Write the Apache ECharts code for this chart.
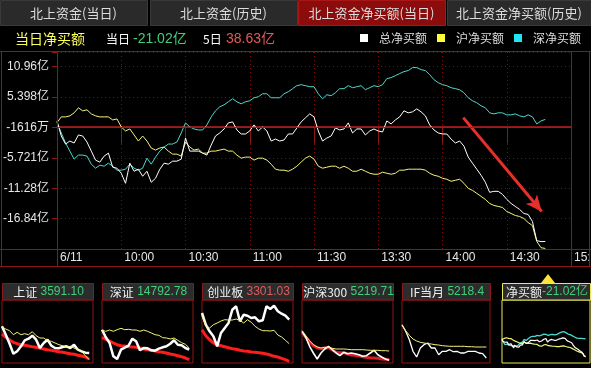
<!DOCTYPE html>
<html><head><meta charset="utf-8">
<script src="https://cdn.jsdelivr.net/npm/echarts@6/dist/echarts.min.js"></script>
<style>html,body{margin:0;padding:0;background:#000;overflow:hidden}#c{width:591px;height:368px}</style>
</head><body><div id="c"></div>
<script>
// ---- main chart data (亿元), sampled every 2 trading minutes from 9:30 ----
const times = [0,2,4,6,8,10,12,14,16,18,20,22,24,26,28,30,32,34,36,38,40,42,44,46,48,50,52,54,56,58,60,62,64,66,68,70,72,74,76,78,80,82,84,86,88,90,92,94,96,98,100,102,104,106,108,110,112,114,116,118,120,122,124,126,128,130,132,134,136,138,140,142,144,146,148,150,152,154,156,158,160,162,164,166,168,170,172,174,176,178,180,182,184,186,188,190,192,194,196,198,200,202,204,206,208,210,212,214,216,218,220,222,224,226,228];
const totalNet = [1.03,-1.73,-3.20,-2.65,-3.01,-1.54,-1.73,-2.83,-4.49,-6.14,
 -6.51,-5.41,-4.86,-7.43,-7.62,-8.54,-10.38,-6.70,-8.17,-7.80,
 -9.09,-8.17,-10.19,-9.46,-7.80,-6.70,-6.88,-6.33,-6.33,-5.96,
 -2.09,-4.49,-4.49,-4.49,-4.86,-5.22,-3.38,-1.73,-1.17,-0.44,
 0.67,0.85,-0.62,-1.36,-1.36,-0.81,0.30,-0.81,-0.07,-0.81,
 -2.65,-2.28,-2.65,-2.46,-1.36,-1.36,-0.25,0.85,1.59,2.32,
 1.77,-0.81,-2.65,-2.09,-1.73,-0.25,-0.62,-0.44,0.67,-1.17,
 -0.44,-0.44,-1.54,-0.81,-0.44,-0.81,-0.99,1.03,0.48,1.22,
 1.77,2.88,2.51,2.69,3.24,2.69,1.96,0.30,-0.62,-1.17,
 -1.36,-1.36,-2.28,-3.01,-2.65,-3.57,-5.59,-6.70,-7.80,-8.90,
 -10.19,-12.03,-11.85,-11.85,-12.40,-13.32,-14.06,-14.61,-15.16,-15.90,
 -16.08,-17.37,-20.87,-21.05,-21.02];
const shNet = [0.72,1.77,1.77,1.96,2.51,3.43,2.88,3.06,2.32,1.96,
 1.77,1.77,1.77,1.22,1.40,-0.07,-0.81,-0.44,-1.54,-2.65,
 -1.73,-2.65,-3.93,-4.30,-3.93,-3.75,-4.49,-5.04,-5.04,-5.41,
 -2.83,-3.75,-4.30,-4.12,-4.86,-4.86,-4.49,-4.49,-4.30,-4.12,
 -4.49,-4.49,-5.22,-5.78,-5.59,-5.59,-6.14,-5.78,-5.78,-6.14,
 -6.88,-7.80,-7.98,-7.98,-8.17,-7.80,-7.25,-6.51,-5.78,-5.41,
 -5.96,-7.25,-7.62,-7.43,-7.25,-7.25,-7.62,-7.25,-7.62,-8.17,
 -8.17,-7.80,-8.17,-8.54,-8.72,-8.72,-8.35,-8.54,-8.72,-8.54,
 -7.98,-7.98,-7.80,-7.80,-7.80,-7.80,-7.98,-8.54,-8.90,-9.09,
 -9.46,-9.64,-10.01,-9.83,-9.64,-10.38,-11.30,-11.67,-12.22,-12.77,
 -13.32,-14.06,-14.43,-14.61,-14.80,-15.53,-15.90,-16.27,-16.45,-16.82,
 -17.56,-18.11,-21.00,-22.16,-22.30];
const szNet = [0.72,-1.17,-3.01,-4.49,-5.96,-5.22,-5.22,-5.41,-6.88,-7.62,
 -7.06,-7.25,-6.70,-7.25,-7.98,-7.98,-7.80,-6.88,-7.62,-7.98,
 -7.62,-5.78,-6.88,-5.59,-4.49,-3.75,-3.20,-3.20,-2.83,-1.17,
 0.67,-0.07,-0.44,-0.62,-0.62,0.30,1.77,2.88,3.61,3.98,
 4.53,5.08,4.53,4.16,4.53,4.72,5.27,5.45,6.00,6.00,
 5.27,5.27,5.27,6.00,6.37,6.93,7.48,7.66,7.48,7.29,
 7.29,6.00,5.08,5.82,5.64,6.19,6.93,6.93,7.48,7.11,
 7.29,7.48,6.74,7.11,7.48,7.29,7.66,8.77,8.95,9.32,
 9.69,10.05,10.24,10.79,10.79,10.42,10.24,9.50,8.58,8.03,
 7.66,7.48,7.11,6.93,6.74,6.19,5.27,4.72,4.35,3.80,
 3.43,2.51,2.32,2.51,2.51,2.14,2.14,2.32,1.96,1.77,
 2.14,1.77,0.48,1.03,1.31];
const yTickValues = [10.96, 5.398, -0.1616, -5.721, -11.28, -16.84];
const yTickLabels = ['10.96亿','5.398亿','-1616万','-5.721亿','-11.28亿','-16.84亿'];
const timeLabels = ['6/11','10:00','10:30','11:00','11:30','13:30','14:00','14:30','15:00'];
const seriesNames = ['总净买额','沪净买额','深净买额'];
const arrowFrom = [189.7, 1.64];
const arrowTo = [226.3, -15.53];

// ---- mini panels (relative level inside each thumbnail), one value every 10 minutes ----
const miniTimes = [0,10,20,30,40,50,60,70,80,90,100,110,120,130,140,150,160,170,180,190,200,210,220,230];
const shPrice = [36.7,28.3,19.3,9.3,11.7,16.7,22.7,24.3,27.3,23.3,15,20,23.3,17.3,15,14.7,16,16.7,15,18.3,13.3,11.7,10.3,10];
const shAvg   = [36,34,32.3,28.3,30.7,28.3,29.3,28.3,31.3,27.3,25,25,22.3,21.7,20,18.3,17.3,15.7,16.7,15,13.3,11.3,7.3,3.3];
const shRed   = [29,25.7,23,20.7,19.3,18.3,17.7,17,16.3,15.7,14.7,14,13.3,12.7,12,11.3,10.7,10,9.3,8.7,7.7,7,6,4];
const szPrice = [33.3,25.7,20,6.7,4,13.3,15.3,17.3,24.3,21.7,12.7,15,14.7,12.7,12.3,14.3,15.7,16.7,19.3,22.7,18.3,17.7,15,13.3];
const szAvg   = [32.7,31.7,33,31.7,33.3,34.7,33.3,33.7,33,33,31.7,33,31.7,30,28.3,27.7,25.3,25,24,25,22.7,20.3,18.7,15];
const szRed   = [25.7,23.7,22,20,18.3,17.3,17,16.3,16,15.7,15,14,13.3,12.7,12,11.3,10.7,10,9,8.3,7.3,6.3,5,3.3];
const cybPrice = [50,38.3,31.7,26.7,16.7,30,35,40,53.3,56.7,41.7,48.3,47.3,45,45.7,41.7,42.7,56.7,54,57.3,51.7,49.3,47.3,43.3];
const cybAvg   = [46.7,37.3,35,38.3,40,42,43.3,43,43,44,42.7,40,43.3,40.7,36.7,34,32.3,32.3,32,32.7,28,26,22.7,19.3];
const cybRed   = [33.3,27.3,23.3,20,18.3,17.3,16.3,15.3,14.3,13.7,12.7,12,11.7,11,10.7,10.3,9.7,9,8,6.7,6,4.7,3.3,1.7];
const hsPrice = [31.7,25.7,16.7,10,4,10,14,16.7,13.3,10,7.3,10.7,9.3,10,9.3,8.3,6.7,7.3,10,12.7,8.3,6,4,2.7];
const hsAvg   = [32.3,27.3,22.3,18.3,16,15,15.7,15.7,14.7,14,14,14,13.7,13.3,13.3,13.3,13.3,13,12.7,12.7,12.7,12.3,12.3,12];
const hsRed   = [30.7,25.7,21,17.3,15.3,14.3,15,15.3,13,10.7,10.3,10.3,9,8,7.7,7.3,6.3,5.7,5,5,4.7,4,3.7,3.3];
const ifPrice = [38.3,31.7,23.3,11.7,6,15,18.3,20,15,15,8.3,11.7,11.7,13.3,11.3,11.7,10,10,11.7,11.7,11.7,10,9.3,5];
const ifAvg   = [38,32.3,27.7,24,22,20.7,20,19.3,19,18.3,18,17.3,17,16.7,16.7,16.7,16.7,16.7,16.3,16.3,16,16,16,16];
const panelTitles = ['上证','深证','创业板','沪深300','IF当月','净买额'];
const panelValues = ['3591.10','14792.78','3301.03','5219.71','5218.4','-21.02亿'];
const panelUp = [false,false,true,false,false,false];

// ---- styles ----
const CJK = '"Noto Sans CJK SC", sans-serif';
const NUM = '"Liberation Sans", "Noto Sans CJK SC", sans-serif';
const RED = '#8e1616';
const DOT = '#741010';
const GREEN = '#40d078';
const PINK = '#e25a5a';
const WHITE = '#ffffff', YEL = '#f4f47a', CYAN = '#4cd8d0';

const pairs = (xs, ys) => ys.map((v, i) => [xs[i], v]);
const yMin = yTickValues[2] - 4 * (yTickValues[2] - yTickValues[3]);
const yStep = yTickValues[2] - yTickValues[3];

const chart = echarts.init(document.getElementById('c'), null, {renderer: 'canvas'});

const panels = [
  {left: 2, width: 91}, {left: 102, width: 91}, {left: 202, width: 91},
  {left: 302, width: 91}, {left: 402, width: 88}, {left: 502, width: 88}
];
const grids = [{left: 57, top: 52, width: 514, height: 197, show: false, containLabel: false, outerBoundsMode: 'none'}];
const xAxes = [{
  gridIndex: 0, type: 'value', min: 0, max: 240, interval: 30,
  axisLine: {show: true, lineStyle: {color: RED}},
  axisTick: {show: true, length: 17, lineStyle: {color: RED}},
  axisLabel: {color: '#e6e6e6', fontSize: 12, fontFamily: NUM, align: 'left', margin: 3, padding: [0,0,0,3],
    hideOverlap: false, formatter: v => timeLabels[Math.round(v / 30)] || ''},
  splitLine: {show: true, lineStyle: {color: DOT, type: [1, 3]}}
}];
const yAxes = [{
  gridIndex: 0, type: 'value', min: yMin, max: 13.64, interval: yStep,
  axisLine: {show: true, lineStyle: {color: RED}},
  axisTick: {show: true, length: 5, lineStyle: {color: RED}},
  axisLabel: {color: '#e6e6e6', fontSize: 12, fontFamily: NUM, margin: 8,
    formatter: v => { const i = yTickValues.findIndex(t => Math.abs(t - v) < 0.05); return i < 0 ? '' : yTickLabels[i]; }},
  splitLine: {show: true, lineStyle: {color: DOT, type: [1, 3]}}
}];
panels.forEach((p, k) => {
  grids.push({left: p.left, top: 300, width: p.width, height: 63, show: true, outerBoundsMode: 'none',
    borderColor: k === 5 ? '#e8e85a' : RED, borderWidth: 1, backgroundColor: '#000'});
  xAxes.push({gridIndex: k + 1, type: 'value', min: 0, max: 240, show: false});
  yAxes.push(k === 5
    ? {gridIndex: k + 1, type: 'value', min: -30, max: 52, show: false}
    : {gridIndex: k + 1, type: 'value', min: 0, max: 63, show: false});
});

const line = (name, data, color, width, gi, extra) => Object.assign({
  type: 'line', name, data, xAxisIndex: gi, yAxisIndex: gi, showSymbol: false, symbol: 'none',
  silent: true, lineStyle: {color, width}, itemStyle: {color}, animation: false
}, extra || {});

const series = [
  line(seriesNames[2], pairs(times, szNet), CYAN, 1, 0),
  line(seriesNames[1], pairs(times, shNet), YEL, 1, 0, {
    markLine: {silent: true, symbol: ['none', 'arrow'], symbolSize: [11, 16], animation: false,
      label: {show: false}, lineStyle: {color: '#e8302a', width: 3, type: 'solid'},
      data: [[{coord: arrowFrom}, {coord: arrowTo}]]}
  }),
  line(seriesNames[0], pairs(times, totalNet), WHITE, 1, 0, {
    markLine: {silent: true, symbol: 'none', animation: false, label: {show: false},
      lineStyle: {color: '#a81818', width: 1, type: 'solid'},
      data: [[{coord: [0, yTickValues[2]]}, {coord: [240, yTickValues[2]]}]]}, z: 3
  }),
  line('p1r', pairs(miniTimes, shRed), '#ff1c1c', 3, 1),
  line('p1w', pairs(miniTimes, shPrice), WHITE, 2.5, 1),
  line('p1y', pairs(miniTimes, shAvg), YEL, 1, 1),
  line('p2r', pairs(miniTimes, szRed), '#ff1c1c', 3, 2),
  line('p2w', pairs(miniTimes, szPrice), WHITE, 2.5, 2),
  line('p2y', pairs(miniTimes, szAvg), YEL, 1, 2),
  line('p3r', pairs(miniTimes, cybRed), '#ff1c1c', 3, 3),
  line('p3w', pairs(miniTimes, cybPrice), WHITE, 2.5, 3),
  line('p3y', pairs(miniTimes, cybAvg), YEL, 1, 3),
  line('p4r', pairs(miniTimes, hsRed), '#d81e2a', 3, 4),
  line('p4w', pairs(miniTimes, hsPrice), WHITE, 1.6, 4),
  line('p4y', pairs(miniTimes, hsAvg), YEL, 1, 4),
  line('p5w', pairs(miniTimes, ifPrice), WHITE, 1.3, 5),
  line('p5y', pairs(miniTimes, ifAvg), YEL, 1, 5),
  line(seriesNames[2], pairs(times, szNet), CYAN, 1.3, 6),
  line(seriesNames[1], pairs(times, shNet), YEL, 1.2, 6),
  line(seriesNames[0], pairs(times, totalNet), WHITE, 1.2, 6)
];

const graphics = [];
const tabs = [
  {x: 0, w: 147, text: '北上资金(当日)', active: false},
  {x: 150, w: 147, text: '北上资金(历史)', active: false},
  {x: 298, w: 147, text: '北上资金净买额(当日)', active: true},
  {x: 447, w: 144, text: '北上资金净买额(历史)', active: false}
];
tabs.forEach(t => {
  graphics.push({type: 'rect', shape: {x: t.x + 0.5, y: 0.5, width: t.w, height: 25},
    style: {fill: t.active ? '#8a0c0c' : '#2a2a2a', stroke: t.active ? '#a81616' : '#3a3a3a', lineWidth: 1}});
  graphics.push({type: 'text', x: t.x + t.w / 2, y: 13,
    style: {text: t.text, fill: '#dcdcdc', font: '13px ' + CJK, align: 'center', verticalAlign: 'middle'}});
});
graphics.push({type: 'text', x: 15, y: 39, style: {text: '当日净买额', fill: '#ffff5a', font: '14px ' + CJK, verticalAlign: 'middle'}});
graphics.push({type: 'text', x: 106, y: 39, style: {text: '当日', fill: '#ffffff', font: '12px ' + CJK, verticalAlign: 'middle'}});
graphics.push({type: 'text', x: 133, y: 39, style: {text: '-21.02亿', fill: GREEN, font: '14px ' + NUM, verticalAlign: 'middle'}});
graphics.push({type: 'text', x: 203, y: 39, style: {text: '5日', fill: '#ffffff', font: '12px ' + CJK, verticalAlign: 'middle'}});
graphics.push({type: 'text', x: 226, y: 39, style: {text: '38.63亿', fill: PINK, font: '14px ' + NUM, verticalAlign: 'middle'}});
// frame of main chart
const ln = (x1, y1, x2, y2, c) => ({type: 'line', shape: {x1, y1, x2, y2}, style: {stroke: c || RED, lineWidth: 1}, z: 10});
graphics.push(ln(0, 51.5, 591, 51.5));
graphics.push(ln(0, 266.5, 591, 266.5));
graphics.push(ln(0, 249.5, 591, 249.5));
graphics.push(ln(1.5, 51.5, 1.5, 266.5));
graphics.push(ln(57.5, 51.5, 57.5, 266.5));
graphics.push(ln(571.5, 51.5, 571.5, 266.5));
graphics.push(ln(589.5, 51.5, 589.5, 266.5));
// mini headers
panels.forEach((p, k) => {
  graphics.push({type: 'rect', shape: {x: p.left + 0.5, y: 283.5, width: p.width, height: 16.5},
    style: {fill: '#2c2c2c', stroke: k === 5 ? '#e8e85a' : RED, lineWidth: 1}, z: 5});
  graphics.push({type: 'text', x: p.left + p.width / 2 + 1, y: 292, z: 6,
    style: {text: '{a|' + panelTitles[k] + '}' + (k === 5 ? '' : ' ') + '{b|' + panelValues[k] + '}',
      align: 'center', verticalAlign: 'middle',
      rich: {a: {fill: '#f0f0f0', font: '12px ' + CJK},
             b: {fill: panelUp[k] ? PINK : GREEN, font: '12px ' + NUM}}}});
});
graphics.push({type: 'polygon', shape: {points: [[541, 283], [548, 274], [555, 283]]}, style: {fill: '#ffe23c'}, z: 6});

chart.setOption({
  backgroundColor: '#000',
  animation: false,
  grid: grids,
  xAxis: xAxes,
  yAxis: yAxes,
  legend: {
    left: 360, top: 32, width: 231, padding: 0, icon: 'rect', itemWidth: 8, itemHeight: 8, itemGap: 10, selectedMode: false,
    textStyle: {color: '#dcdcdc', fontSize: 12, fontFamily: CJK, padding: [0, 0, 0, 6]},
    data: [
      {name: seriesNames[0], itemStyle: {color: '#ffffff'}},
      {name: seriesNames[1], itemStyle: {color: '#ffff33'}},
      {name: seriesNames[2], itemStyle: {color: '#22e4f0'}}
    ]
  },
  graphic: {elements: graphics},
  series
});
</script></body></html>
